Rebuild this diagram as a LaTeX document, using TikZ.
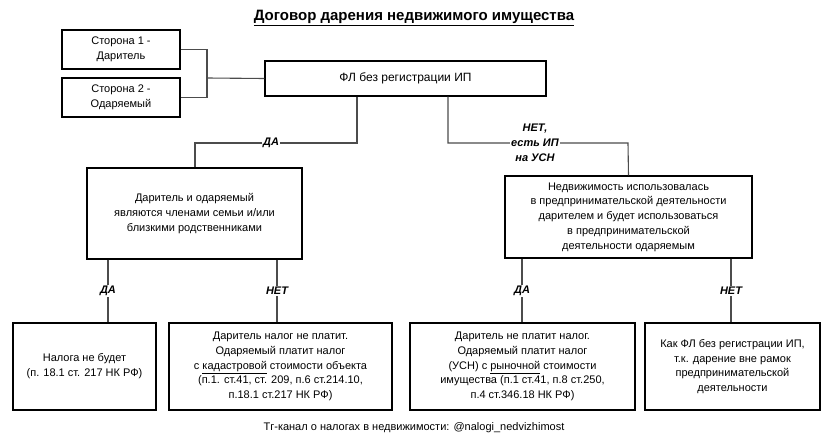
\documentclass[tikz,border=0pt]{standalone}
\usepackage{fontspec}
\setmainfont{Liberation Sans}
\usepackage{tikz}
\tikzset{
  box/.style={draw, line width=1.2pt, align=center, inner sep=2pt},
  lnk/.style={draw=black!70, line width=1.1pt},
  lbl/.style={fill=white, inner sep=1.5pt, font=\itshape\bfseries, align=center}
}
\begin{document}
\begin{tikzpicture}[x=1pt,y=1pt,yscale=-1,xscale=1]
\fontsize{11}{14.8}\selectfont
\useasboundingbox (0,0) rectangle (828,447);

% title
\node (title) at (414,18) {\bfseries\fontsize{15}{17}\selectfont\underline{Договор дарения недвижимого имущества}};

% parties
\node (s1) [box, minimum width=118pt, minimum height=39pt] at (121,49.5) {Сторона 1 -\\Даритель};
\node (s2) [box, minimum width=118pt, minimum height=39pt] at (121,97.5) {Сторона 2 -\\Одаряемый};
\node (fl) [box, minimum width=281pt, minimum height=35pt] at (405.5,78.5) {\fontsize{12}{15}\selectfont ФЛ без регистрации ИП};

% second row
\node (fam) [box, minimum width=215pt, minimum height=91pt] at (194.5,213.5) {Даритель и одаряемый\\являются членами семьи и/или\\близкими родственниками};
\node (biz) [box, minimum width=247pt, minimum height=82pt] at (628.5,217) {Недвижимость использовалась\\в предпринимательской деятельности\\дарителем и будет использоваться\\в предпринимательской\\деятельности одаряемым};

% bottom row
\node (r1) [box, minimum width=143pt, minimum height=87pt] at (84.5,366.5) {Налога не будет\\(п. 18.1 ст. 217 НК РФ)};
\node (r2) [box, minimum width=223pt, minimum height=87pt] at (280.5,366.5) {Даритель налог не платит.\\Одаряемый платит налог\\с \underline{кадастровой} стоимости объекта\\(п.1. ст.41, ст. 209, п.6 ст.214.10,\\п.18.1 ст.217 НК РФ)};
\node (r3) [box, minimum width=225pt, minimum height=87pt] at (522.5,366.5) {Даритель не платит налог.\\Одаряемый платит налог\\(УСН) с \underline{рыночной} стоимости\\имущества (п.1 ст.41, п.8 ст.250,\\п.4 ст.346.18 НК РФ)};
\node (r4) [box, minimum width=175pt, minimum height=87pt] at (732.5,366.5) {Как ФЛ без регистрации ИП,\\т.к. дарение вне рамок\\предпринимательской\\деятельности};

% connectors
\coordinate (j) at (207,78);
\draw[lnk] (s1.east) -| (j) |- (s2.east);
\draw[lnk] (j) -- (fl.west);
\draw[lnk] (fl.south -| 357,0) |- (195,143) -- (fam.north -| 195,0);
\draw[lnk] (fl.south -| 448,0) |- (628,143) -- (biz.north);
\draw[lnk] (fam.south -| 108,0) -- (r1.north -| 108,0);
\draw[lnk] (fam.south -| 277,0) -- (r2.north -| 277,0);
\draw[lnk] (biz.south -| 522,0) -- (r3.north -| 522,0);
\draw[lnk] (biz.south -| 731,0) -- (r4.north -| 731,0);

% labels
\node (da1) [lbl] at (271,143) {ДА};
\node (net1) [lbl] at (535,143) {НЕТ,\\есть ИП\\на УСН};
\node (da2) [lbl] at (108,291) {ДА};
\node (net2) [lbl] at (277,291) {НЕТ};
\node (da3) [lbl] at (522,291) {ДА};
\node (net3) [lbl] at (731,291) {НЕТ};

% footer
\node (foot) at (414,428) {Tг-канал о налогах в недвижимости: @nalogi\_nedvizhimost};
\end{tikzpicture}
\end{document}
